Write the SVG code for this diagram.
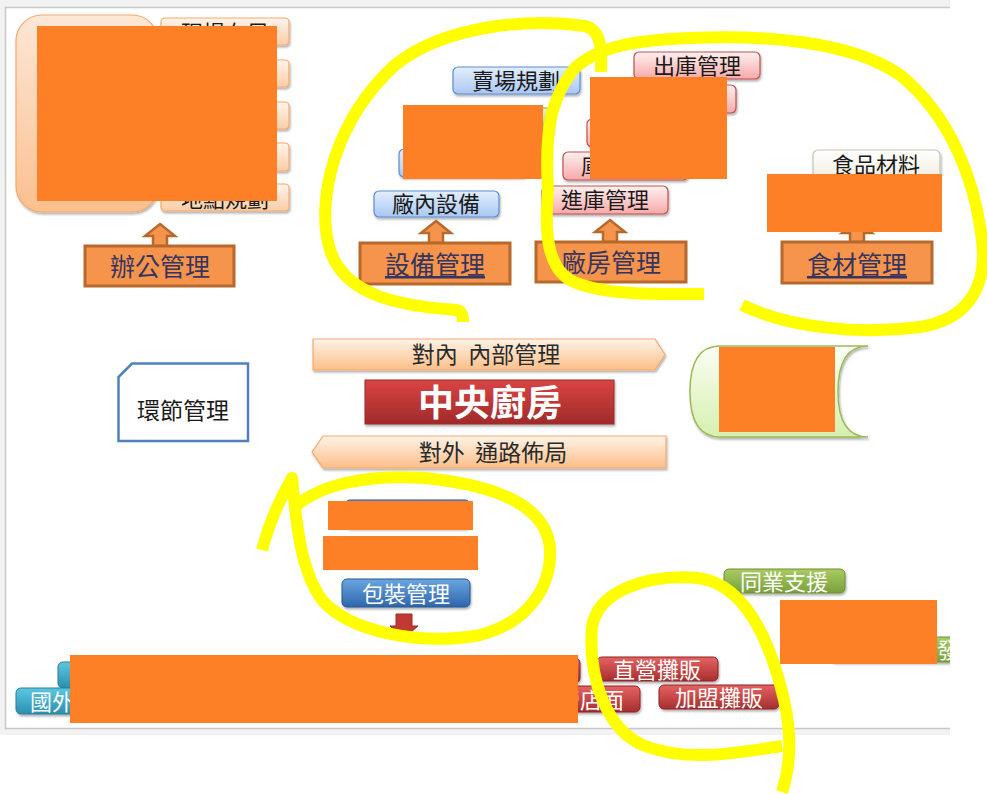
<svg xmlns="http://www.w3.org/2000/svg" width="987" height="794" viewBox="0 0 987 794">
<defs>
<style>
text{font-family:"Noto Sans CJK TC","Noto Sans CJK SC",sans-serif;text-anchor:middle}
.t{font-size:22px;fill:#1a1a1a}
.w{font-size:22px;fill:#ffffff}
.mg{font-size:25px;fill:#353560}
.mgb{fill:#f5944a;stroke:#b7692d;stroke-width:3}
.arr{fill:#f5944a;stroke:#b7692d;stroke-width:2.5}
.lo{fill:url(#gLo);stroke:#f5a96e;stroke-width:1.2}
.bl{fill:url(#gBl);stroke:#5b8dd6;stroke-width:1.2}
.gr{fill:url(#gGr);stroke:#8bae2e;stroke-width:1.2}
.pk{fill:url(#gPk);stroke:#c0504d;stroke-width:1.2}
.rd{fill:url(#gRd);stroke:#8c2323;stroke-width:1}
.tl{fill:url(#gTl);stroke:#2a7f9a;stroke-width:1}
.gg{fill:url(#gGg);stroke:#6f8f33;stroke-width:1}
.red{fill:#fe8026}
.yl{fill:none;stroke:#ffff00;stroke-width:12;stroke-linejoin:round}
.sh{filter:url(#sh)}
</style>
<filter id="sh" x="-10%" y="-20%" width="120%" height="150%"><feDropShadow dx="1" dy="2" stdDeviation="1.2" flood-color="#000" flood-opacity="0.3"/></filter>
<linearGradient id="gLo" x1="0" y1="0" x2="0" y2="1"><stop offset="0" stop-color="#fff4ec"/><stop offset="1" stop-color="#fbcda5"/></linearGradient>
<linearGradient id="gBig" x1="0" y1="0" x2="0" y2="1"><stop offset="0" stop-color="#fde7d6"/><stop offset="1" stop-color="#fbc08e"/></linearGradient>
<linearGradient id="gBl" x1="0" y1="0" x2="0" y2="1"><stop offset="0" stop-color="#e3eefc"/><stop offset="1" stop-color="#a9c7f3"/></linearGradient>
<linearGradient id="gGr" x1="0" y1="0" x2="0" y2="1"><stop offset="0" stop-color="#eef6c8"/><stop offset="1" stop-color="#a2c433"/></linearGradient>
<linearGradient id="gPk" x1="0" y1="0" x2="0" y2="1"><stop offset="0" stop-color="#fff0f0"/><stop offset="1" stop-color="#f7a9a9"/></linearGradient>
<linearGradient id="gCr" x1="0" y1="0" x2="0" y2="1"><stop offset="0" stop-color="#ffffff"/><stop offset="1" stop-color="#f1eee0"/></linearGradient>
<linearGradient id="gAr" x1="0" y1="0" x2="0" y2="1"><stop offset="0" stop-color="#fff3e8"/><stop offset="1" stop-color="#fbbf88"/></linearGradient>
<linearGradient id="gCk" x1="0" y1="0" x2="0" y2="1"><stop offset="0" stop-color="#d94444"/><stop offset="1" stop-color="#a12a2a"/></linearGradient>
<linearGradient id="gSc" x1="0" y1="0" x2="0" y2="1"><stop offset="0" stop-color="#fbfef4"/><stop offset="1" stop-color="#d6f0ae"/></linearGradient>
<linearGradient id="gBb" x1="0" y1="0" x2="0" y2="1"><stop offset="0" stop-color="#6aa6e0"/><stop offset="1" stop-color="#2d66ad"/></linearGradient>
<linearGradient id="gRd" x1="0" y1="0" x2="0" y2="1"><stop offset="0" stop-color="#e66262"/><stop offset="1" stop-color="#a72e2e"/></linearGradient>
<linearGradient id="gTl" x1="0" y1="0" x2="0" y2="1"><stop offset="0" stop-color="#5cc7e3"/><stop offset="1" stop-color="#2a8fae"/></linearGradient>
<linearGradient id="gGg" x1="0" y1="0" x2="0" y2="1"><stop offset="0" stop-color="#a9cc63"/><stop offset="1" stop-color="#78a03a"/></linearGradient>
<clipPath id="panel"><rect x="6" y="8" width="944" height="720"/></clipPath>
</defs>

<rect x="0" y="0" width="987" height="794" fill="#ffffff"/>
<rect x="0" y="0" width="950" height="735" fill="#f2f2f2"/>
<rect x="6" y="8" width="944" height="720" fill="#ffffff"/>
<path d="M950,7.5 H5.5 V728.5 H950" fill="none" stroke="#c8c8c8" stroke-width="1.5"/>

<g clip-path="url(#panel)">
<g id="office-panel">
<rect x="16" y="15" width="142" height="197" rx="26" fill="url(#gBig)" stroke="#f5a96e" stroke-width="1.2" class="sh"/>
</g>
<g id="office-items">
<rect x="161" y="18" width="128" height="27" rx="4" class="lo sh"/>
<text x="225" y="41" class="t">現場布局</text>
<rect x="161" y="60" width="128" height="27" rx="4" class="lo sh"/>
<rect x="161" y="102" width="128" height="27" rx="4" class="lo sh"/>
<rect x="161" y="143" width="128" height="28" rx="4" class="lo sh"/>
<rect x="161" y="184" width="128" height="27" rx="4" class="lo sh"/>
<text x="225" y="207" class="t">地點規劃</text>
</g>

<g id="equip-items">
<rect x="453" y="67" width="127" height="27" rx="5" class="bl sh"/>
<text x="516" y="89" class="t">賣場規劃</text>
<rect x="425" y="108" width="128" height="28" rx="5" class="gr sh"/>
<rect x="399" y="149" width="128" height="28" rx="5" class="bl sh"/>
<rect x="374" y="191" width="125" height="26" rx="5" class="bl sh"/>
<text x="436" y="212" class="t">廠內設備</text>
</g>

<g id="storage-items">
<rect x="634" y="52" width="126" height="27" rx="5" class="pk sh"/>
<text x="697" y="74" class="t">出庫管理</text>
<rect x="610" y="85" width="126" height="28" rx="5" class="pk sh"/>
<rect x="587" y="119" width="126" height="28" rx="5" class="pk sh"/>
<rect x="563" y="152" width="125" height="28" rx="5" class="pk sh"/>
<text x="625" y="174" class="t">庫存管理</text>
<rect x="542" y="186" width="126" height="28" rx="5" class="pk sh"/>
<text x="605" y="208" class="t">進庫管理</text>
</g>

<g id="food-items">
<rect x="813" y="150" width="127" height="28" rx="5" fill="url(#gCr)" stroke="#c9c4b2" stroke-width="1.2" class="sh"/>
<text x="876" y="173" class="t">食品材料</text>
</g>

<g id="connectors">
<path d="M160,224 L175,236 L167,236 L167,246 L153,246 L153,236 L145,236 Z" class="arr"/>
<path d="M436,221 L451,233 L443,233 L443,243 L429,243 L429,233 L421,233 Z" class="arr"/>
<path d="M610,220 L625,232 L617,232 L617,242 L603,242 L603,232 L595,232 Z" class="arr"/>
<path d="M857,221 L872,233 L864,233 L864,242 L850,242 L850,233 L842,233 Z" class="arr"/>
<path d="M396,614 L412,614 L412,626 L418,626 L404,638 L390,626 L396,626 Z" fill="#c03a33" stroke="#9c2a24" stroke-width="1"/>
</g>

<g id="office-mgmt">
<rect x="85" y="246" width="149" height="40" class="mgb"/>
<text x="160" y="276" class="mg">辦公管理</text>
</g>
<g id="equip-mgmt">
<rect x="360" y="243" width="150" height="41" class="mgb"/>
<text x="435" y="274" class="mg" text-decoration="underline">設備管理</text>
</g>
<g id="plant-mgmt">
<rect x="536" y="242" width="150" height="40" class="mgb"/>
<text x="611" y="272" class="mg">廠房管理</text>
</g>
<g id="food-mgmt">
<rect x="782" y="242" width="150" height="41" class="mgb"/>
<text x="857" y="274" class="mg" text-decoration="underline">食材管理</text>
</g>

<g id="internal">
<path d="M313,339 L655,339 L665,354.5 L655,370 L313,370 Z" fill="url(#gAr)" stroke="#f5a96e" stroke-width="1.2" class="sh"/>
<text x="486" y="363" font-size="23" fill="#2a2a2a" xml:space="preserve">對內  內部管理</text>
</g>
<g id="central-kitchen">
<rect x="365" y="380" width="249" height="44" fill="url(#gCk)" stroke="#9a2a2a" stroke-width="1" class="sh"/>
<text x="490" y="416" font-size="36" font-weight="bold" fill="#ffffff">中央廚房</text>
</g>
<g id="external">
<path d="M323,436 L666,436 L666,468 L323,468 L312,452 Z" fill="url(#gAr)" stroke="#f5a96e" stroke-width="1.2" class="sh"/>
<text x="493" y="461" font-size="23" fill="#2a2a2a" xml:space="preserve">對外  通路佈局</text>
</g>
<g id="link-mgmt">
<path d="M132,363.5 L248,363.5 L248,441 L118.5,441 L118.5,377 Z" fill="#ffffff" stroke="#4f81bd" stroke-width="2.5"/>
<text x="183" y="419" font-size="23" fill="#1a1a1a">環節管理</text>
</g>
<g id="scroll">
<path d="M720,346 L868,346 Q838,346 838,391.5 Q838,437 868,437 L720,437 Q690,437 690,391.5 Q690,346 720,346 Z" fill="url(#gSc)" stroke="#9bbb59" stroke-width="1.5" class="sh"/>
</g>

<g id="pack-items">
<rect x="345" y="500" width="125" height="28" rx="5" fill="url(#gBb)" stroke="#27568f" stroke-width="1" class="sh"/>
</g>
<g id="pack-mgmt">
<rect x="342" y="579" width="128" height="28" rx="5" fill="url(#gBb)" stroke="#27568f" stroke-width="1" class="sh"/>
<text x="406" y="602" class="w" font-size="23">包裝管理</text>
</g>

<g id="channels">
<rect x="58" y="662" width="120" height="26" rx="5" class="tl sh"/>
<rect x="16" y="688" width="120" height="26" rx="5" class="tl sh"/>
<text x="74" y="710" class="w">國外通路</text>
<rect x="460" y="658" width="120" height="25" rx="5" class="rd sh"/>
<rect x="520" y="686" width="120" height="26" rx="5" class="rd sh"/>
<text x="580" y="708" class="w">直營店面</text>
<rect x="597" y="657" width="121" height="24" rx="5" class="rd sh"/>
<text x="657" y="678" class="w">直營攤販</text>
<rect x="659" y="685" width="120" height="24" rx="5" class="rd sh"/>
<text x="719" y="706" class="w">加盟攤販</text>
<rect x="724" y="569" width="121" height="24" rx="5" class="gg sh"/>
<text x="784" y="590" class="w">同業支援</text>
<rect x="830" y="637" width="125" height="25" rx="5" class="gg sh"/>
<text x="959" y="658" class="w" style="text-anchor:end">同業批發</text>
</g>

<g id="redactions">
<rect x="37" y="26" width="240" height="175" class="red"/>
<rect x="403" y="105" width="140" height="74" class="red"/>
<rect x="590" y="77" width="137" height="102" class="red"/>
<rect x="767" y="174" width="175" height="58" class="red"/>
<rect x="719" y="347" width="116" height="85" class="red"/>
<rect x="328" y="501" width="145" height="29" class="red"/>
<rect x="323" y="536" width="155" height="34" class="red"/>
<rect x="70" y="655" width="508" height="68" class="red"/>
<rect x="780" y="600" width="157" height="64" class="red"/>
</g>
</g>

<g id="highlights">
<path class="yl" d="M463,322 C463,315 462,311 456,310 C400,306 345,296 330,250 C315,200 335,120 395,65 C445,25 530,18 585,26 C600,30 602,45 601,72"/>
<path class="yl" d="M704,294 C660,294 600,296 570,280 C545,265 545,225 548,190 C545,140 548,100 575,68 C600,45 640,40 690,38 C760,35 850,40 900,75 C950,115 975,180 982,240 C988,290 965,320 920,327 C860,335 790,328 742,305"/>
<path class="yl" d="M262,550 C270,520 282,495 292,478 C296,520 300,570 322,600 C350,632 420,646 480,635 C530,622 552,585 550,548 C546,505 495,485 425,478 C365,474 322,485 297,505"/>
<path class="yl" d="M782,746 C740,752 690,763 645,746 C605,730 588,675 592,627 C598,590 648,574 698,578 C745,584 770,640 784,700 C793,740 790,768 782,792"/>
</g>
</svg>
